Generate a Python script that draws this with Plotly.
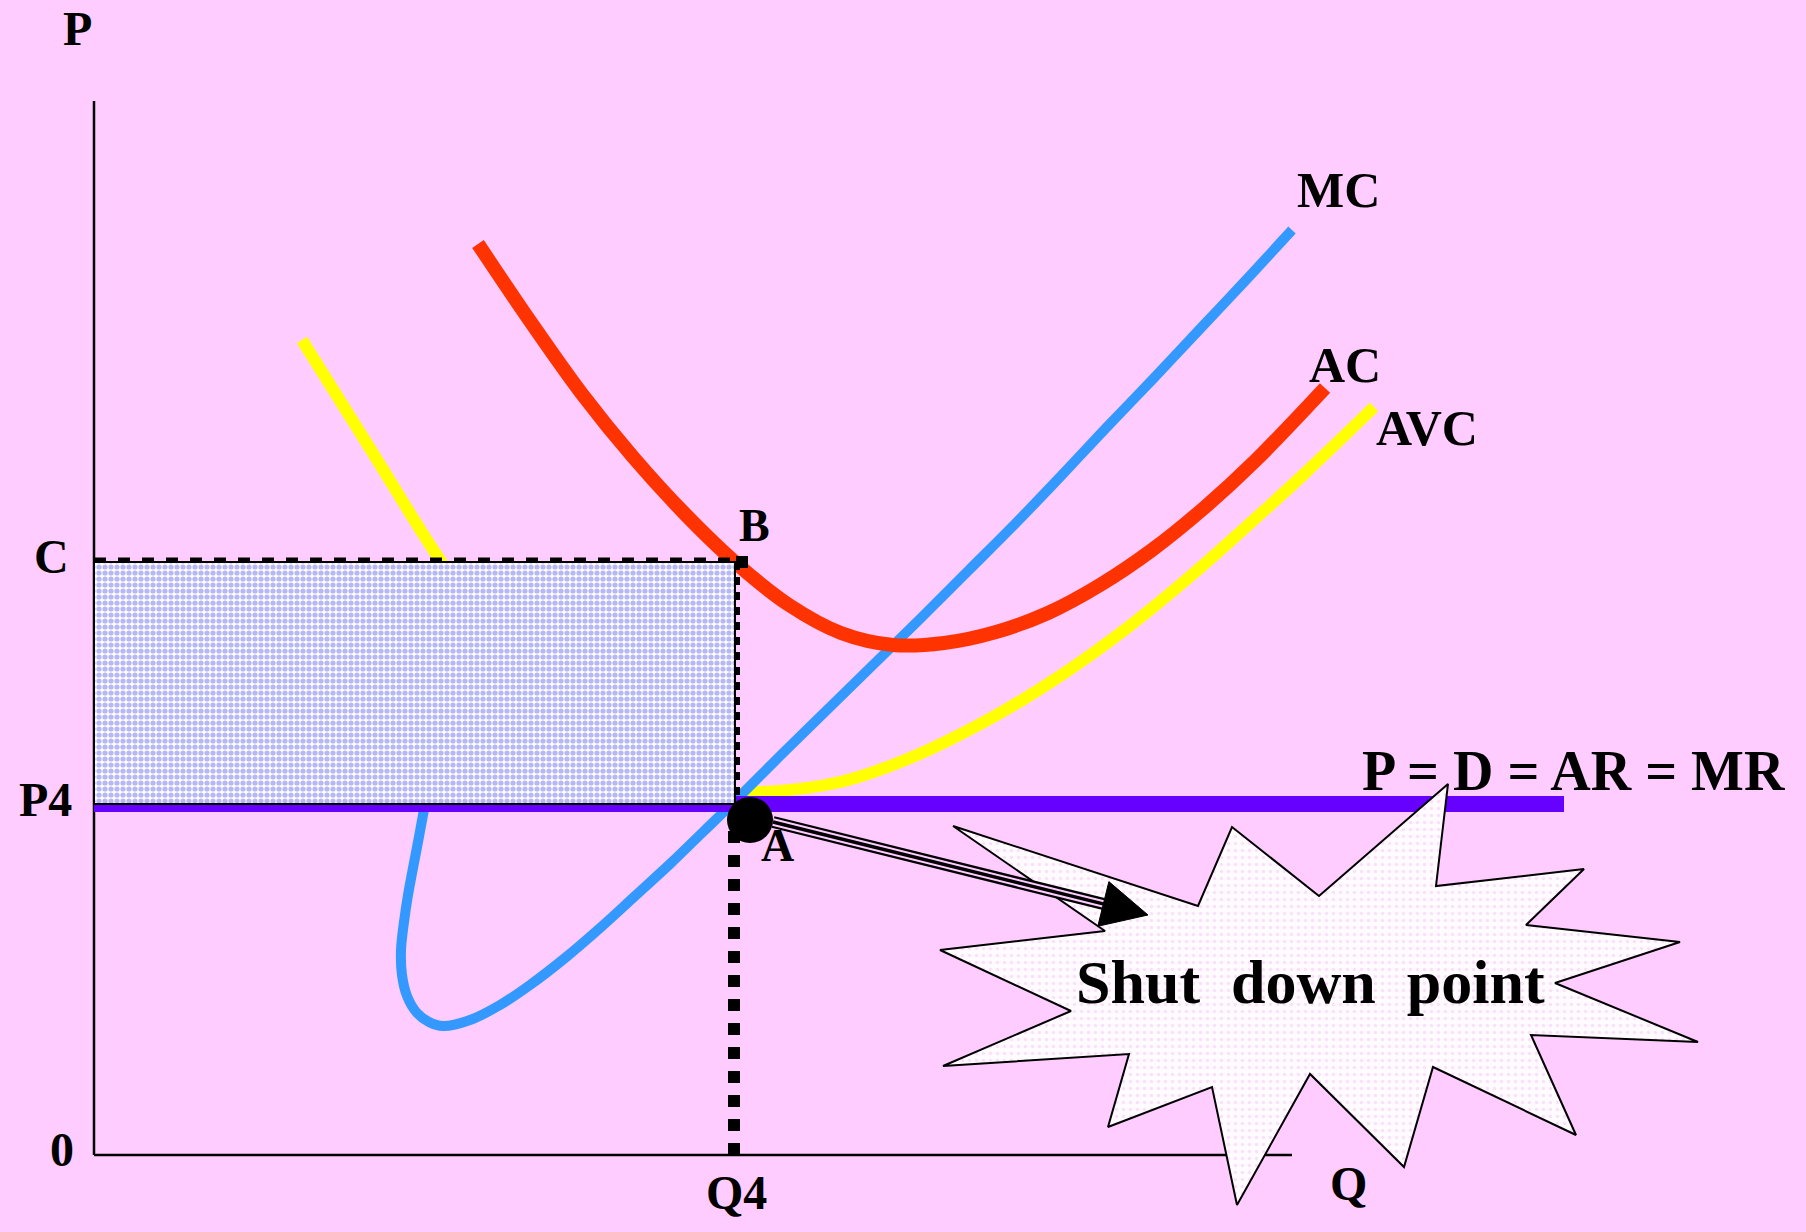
import math
import plotly.graph_objects as go

BG = "#FFCCFF"
SERIF = "Liberation Serif, Times New Roman, serif"

# Short-run cost curves: quantity Q on the x axis, price P on the y axis
mc_q = [3.33, 3.29, 3.24, 3.19, 3.14, 3.10, 3.07, 3.08, 3.13, 3.23, 3.35, 3.49,
        3.76, 4.06, 4.36, 4.71, 5.06, 5.41, 5.77, 6.10, 6.43, 6.89, 7.35, 7.81,
        8.27, 8.74, 9.21, 9.67, 10.12, 10.59, 11.05, 11.52, 11.98]
mc_p = [3.60, 3.40, 3.13, 2.87, 2.60, 2.33, 2.05, 1.80, 1.59, 1.42, 1.33, 1.29,
        1.35, 1.50, 1.70, 1.97, 2.27, 2.59, 2.92, 3.24, 3.56, 4.02, 4.47, 4.92,
        5.37, 5.84, 6.31, 6.79, 7.27, 7.76, 8.25, 8.75, 9.25]

ac_q = [3.84, 4.36, 4.88, 5.39, 5.91, 6.43, 6.95, 7.47, 7.99, 8.50, 9.02, 9.54,
        10.06, 10.58, 11.10, 11.61, 12.31]
ac_p = [9.11, 8.34, 7.61, 6.98, 6.41, 5.91, 5.50, 5.22, 5.10, 5.12, 5.23, 5.42,
        5.70, 6.05, 6.47, 6.94, 7.67]

avc_q = [2.08, 2.77, 3.46, 4.26, 5.06, 5.86, 6.66, 7.46, 8.16, 8.99, 9.66, 10.33,
         10.99, 11.52, 12.09, 12.80]
avc_p = [8.15, 7.05, 5.95, 4.85, 4.05, 3.66, 3.63, 3.73, 3.97, 4.38, 4.79, 5.27,
         5.81, 6.28, 6.80, 7.48]

# Market price, output and average cost at the shut-down output
P4 = 3.51
Q4 = 6.41
C = 5.93
price_line_end = 14.70

# Axis extents
q_axis_end = 11.98
p_axis_end = 10.54

# Shut-down point marker and the arrow leading to the callout
point_a = (6.56, 3.35)
arrow_start = (6.79, 3.33)
arrow_tip = (10.54, 2.40)

# Callout burst outline
star_q = [8.59, 11.04, 11.38, 12.25, 13.54, 13.42, 14.90, 14.32, 15.86, 14.61,
          16.04, 14.37, 14.82, 13.39, 13.10, 12.16, 11.43, 11.18, 10.14, 10.35,
          8.49, 9.77, 8.46, 10.11]
star_p = [3.29, 2.49, 3.28, 2.59, 3.71, 2.69, 2.86, 2.30, 2.13, 1.72,
          1.13, 1.20, 0.20, 0.88, -0.12, 0.81, -0.50, 0.68, 0.28, 1.01,
          0.89, 1.44, 2.05, 2.24]

fig = go.Figure()


def line(x, y, color, width, dash=None, shape="linear"):
    fig.add_trace(go.Scatter(
        x=x, y=y, mode="lines", hoverinfo="skip",
        line=dict(color=color, width=width, dash=dash, shape=shape,
                  smoothing=1.0 if shape == "spline" else None),
    ))


# Axes
line([0, 0], [0, p_axis_end], "black", 2.5)
line([0, q_axis_end], [0, 0], "black", 2.5)

# Cost curves
line(avc_q, avc_p, "#FFFF00", 12, shape="spline")
line(mc_q, mc_p, "#3399FF", 10, shape="spline")
line(ac_q, ac_p, "#FF3300", 14, shape="spline")

# Price line P = D = AR = MR
line([0, price_line_end], [P4, P4], "#6600FF", 16)

# Loss area between C and P4 up to Q4
fig.add_trace(go.Scatter(
    x=[0, Q4, Q4, 0, 0], y=[P4, P4, C, C, P4], mode="lines",
    fill="toself", hoverinfo="skip",
    line=dict(color="black", width=2),
    fillpattern=dict(shape=".", fgcolor="#6F6FEE", bgcolor="white",
                     size=6, solidity=0.6),
))

# Dotted guide lines
line([0, Q4 + 0.05], [C + 0.02, C + 0.02], "black", 5, dash="12px,12px")
line([Q4 + 0.02, Q4 + 0.02], [C, P4], "black", 6, dash="8px,7px")
line([Q4 - 0.01, Q4 - 0.01], [0, P4 - 0.15], "black", 12, dash="12px,12px")
fig.add_trace(go.Scatter(
    x=[Q4 + 0.07], y=[C], mode="markers", hoverinfo="skip",
    marker=dict(symbol="square", size=12, color="black"),
))

# Callout burst
fig.add_trace(go.Scatter(
    x=star_q + star_q[:1], y=star_p + star_p[:1], mode="lines",
    fill="toself", hoverinfo="skip",
    line=dict(color="black", width=2),
    fillpattern=dict(shape=".", fgcolor="#F6C6F6", bgcolor="#FFFBFF",
                     size=7, solidity=0.2),
))

# Arrow from the shut-down point to the callout
dx = arrow_tip[0] - arrow_start[0]
dy = arrow_tip[1] - arrow_start[1]
length = math.hypot(dx, dy)
ux, uy = dx / length, dy / length
head_len, head_half = 0.46, 0.23
base = (arrow_tip[0] - ux * head_len, arrow_tip[1] - uy * head_len)
shaft_q = [arrow_start[0], base[0] + ux * 0.05]
shaft_p = [arrow_start[1], base[1] + uy * 0.05]
line(shaft_q, shaft_p, "black", 12)
line(shaft_q, shaft_p, BG, 7.5)
line(shaft_q, shaft_p, "black", 3.5)
fig.add_trace(go.Scatter(
    x=[arrow_tip[0], base[0] - uy * head_half, base[0] + uy * head_half, arrow_tip[0]],
    y=[arrow_tip[1], base[1] + ux * head_half, base[1] - ux * head_half, arrow_tip[1]],
    mode="lines", fill="toself", fillcolor="black", hoverinfo="skip",
    line=dict(color="black", width=1),
))

# Point A
fig.add_trace(go.Scatter(
    x=[point_a[0]], y=[point_a[1]], mode="markers", hoverinfo="skip",
    marker=dict(symbol="circle", size=46, color="black"),
))


def label(text, q, p, size):
    fig.add_annotation(
        x=q, y=p, xref="x", yref="y", text=text, showarrow=False,
        xanchor="center", yanchor="middle",
        font=dict(family=SERIF, size=size, color="black", weight="bold"),
    )


label("P", -0.17, 11.27, 48)
label("C", -0.43, 5.99, 48)
label("P4", -0.49, 3.56, 48)
label("0", -0.32, 0.06, 48)
label("Q4", 6.42, -0.37, 48)
label("Q", 12.54, -0.28, 48)
label("B", 6.60, 6.30, 46)
label("A", 6.83, 3.10, 46)
label("MC", 12.44, 9.65, 50)
label("AC", 12.51, 7.90, 50)
label("AVC", 13.33, 7.27, 50)
label("P = D = AR = MR", 14.79, 3.84, 56)
label("Shut\u00a0 down\u00a0 point", 12.16, 1.73, 62)

fig.update_layout(
    width=1806, height=1232, autosize=False,
    margin=dict(l=0, r=0, t=0, b=0, pad=0),
    paper_bgcolor=BG, plot_bgcolor=BG,
    showlegend=False,
    xaxis=dict(range=[-0.94, 17.12], visible=False, fixedrange=True),
    yaxis=dict(range=[-0.77, 11.55], visible=False, fixedrange=True),
)

fig.write_html("out.html")
